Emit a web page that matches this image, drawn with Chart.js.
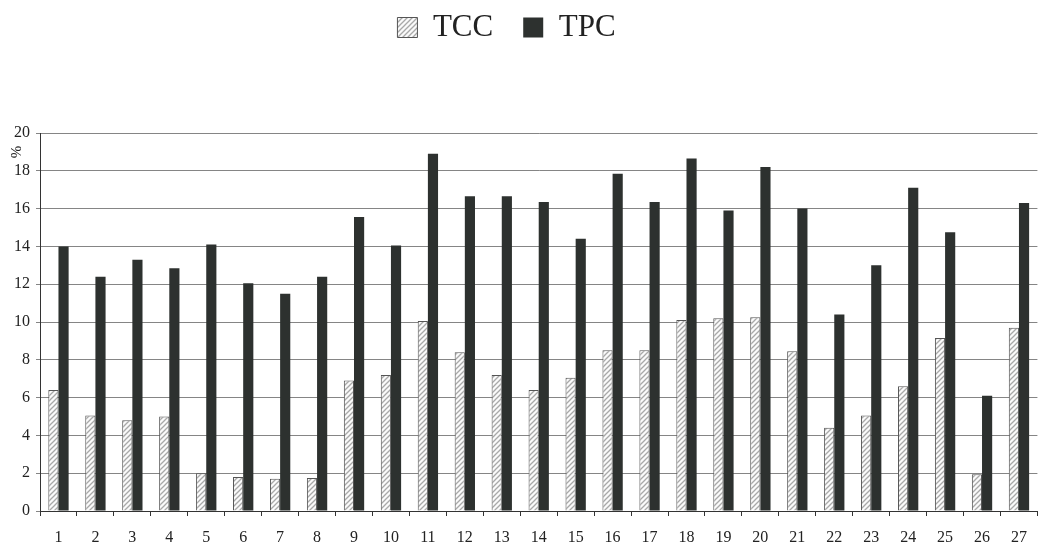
<!DOCTYPE html>
<html>
<head>
<meta charset="utf-8">
<script src="https://cdn.jsdelivr.net/npm/chart.js@4/dist/chart.umd.min.js"></script>
<style>
html,body{margin:0;padding:0;background:#fff}
#wrap{width:1041px;height:545px;position:relative}
</style>
</head>
<body>
<div id="wrap"><canvas id="chart"></canvas></div>
<script>
// ===== DATA =====
const samples = ['1','2','3','4','5','6','7','8','9','10','11','12','13','14','15','16','17','18','19','20','21','22','23','24','25','26','27'];
const tcc = [6.4,5.05,4.8,5.0,2.0,1.8,1.7,1.75,6.9,7.2,10.05,8.4,7.2,6.4,7.05,8.5,8.5,10.1,10.2,10.25,8.45,4.4,5.05,6.6,9.15,1.95,9.7];
const tpc = [14.0,12.4,13.3,12.85,14.1,12.05,11.5,12.4,15.55,14.05,18.9,16.65,16.65,16.35,14.4,17.85,16.35,18.65,15.9,18.2,16.0,10.4,13.0,17.1,14.75,6.1,16.3];
const yTicks = [0,2,4,6,8,10,12,14,16,18,20];
const yUnit = '%';

// ===== STYLE =====
const SERIF = "'Liberation Serif','DejaVu Serif',serif";
Chart.defaults.font.family = SERIF;
Chart.defaults.color = '#222';

// diagonal hatch for TCC
function hatch(){
  const c = document.createElement('canvas');
  c.width = 5; c.height = 5;
  const g = c.getContext('2d');
  g.fillStyle = '#fafafa';
  g.fillRect(0,0,5,5);
  g.strokeStyle = '#a8a8a8';
  g.lineWidth = 1.3;
  g.beginPath();
  g.moveTo(-1,6); g.lineTo(6,-1);
  g.moveTo(-1,1); g.lineTo(1,-1);
  g.moveTo(4,6); g.lineTo(6,4);
  g.stroke();
  return g.createPattern(c,'repeat');
}

// extra room under the legend, legend nudged a bit to the left
const legendGap = {
  id:'legendGap',
  beforeInit(chart){
    const lg = chart.legend;
    const fit = lg.fit;
    lg.fit = function(){ fit.bind(lg)(); this.height += 80; };
    const draw = lg.draw;
    lg.draw = function(){
      this.left -= 17; this.right -= 17;
      draw.call(this);
      this.left += 17; this.right += 17;
    };
  }
};

// "%" unit near the top of the y axis
const unitLabel = {
  id:'unitLabel',
  afterDraw(chart){
    const y = chart.scales.y;
    const ctx = chart.ctx;
    ctx.save();
    ctx.font = '15px ' + SERIF;
    ctx.fillStyle = '#222';
    ctx.textAlign = 'center';
    ctx.textBaseline = 'middle';
    ctx.translate(y.right - 23, y.getPixelForValue(19.0));
    ctx.rotate(-Math.PI/2);
    ctx.fillText(yUnit,0,0);
    ctx.restore();
  }
};

new Chart(document.getElementById('chart'),{
  type:'bar',
  data:{
    labels:samples,
    datasets:[
      {label:'TCC',data:tcc,backgroundColor:hatch(),borderColor:'#555',borderWidth:1,borderSkipped:'bottom'},
      {label:'TPC',data:tpc,backgroundColor:'#2d312f',borderColor:'#2d312f',borderWidth:0}
    ]
  },
  options:{
    responsive:true,
    maintainAspectRatio:false,
    animation:false,
    layout:{padding:{top:-18,left:8,right:2,bottom:-15}},
    datasets:{bar:{categoryPercentage:0.55,barPercentage:1.0}},
    plugins:{
      legend:{
        position:'top',
        labels:{font:{size:31,family:SERIF},color:'#222',boxWidth:20,boxHeight:20,padding:30}
      },
      tooltip:{enabled:false}
    },
    scales:{
      x:{
        grid:{display:true,drawOnChartArea:false,drawTicks:true,tickLength:5,offset:true,color:'#333'},
        border:{color:'#333',width:1},
        ticks:{font:{size:16,lineHeight:1},color:'#222',padding:14,maxRotation:0,autoSkip:false}
      },
      y:{
        min:0,max:20,
        afterBuildTicks(s){ s.ticks = yTicks.map(v=>({value:v})); },
        grid:{color:'#858585',lineWidth:1,drawTicks:true,tickLength:4},
        border:{color:'#333',width:1},
        ticks:{font:{size:16},color:'#222',padding:6}
      }
    }
  },
  plugins:[legendGap,unitLabel]
});
</script>
</body>
</html>
